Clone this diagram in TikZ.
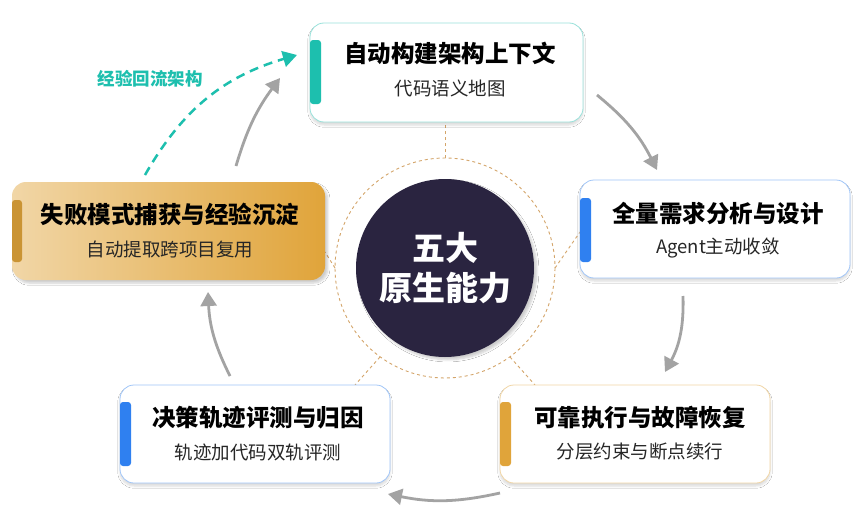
\documentclass[tikz,border=0pt]{standalone}
\usepackage{fontspec}
\setmainfont{Noto Sans CJK SC}
\usetikzlibrary{arrows.meta,shadows.blur}
\definecolor{teal1}{HTML}{1DBFAE}
\definecolor{blue1}{HTML}{2F80F0}
\definecolor{gold1}{HTML}{E0A43A}
\definecolor{dark}{HTML}{2A2440}
\definecolor{arr}{HTML}{A3A3A3}
\definecolor{spoke}{HTML}{D4A56A}
\begin{document}
\begin{tikzpicture}[x=1pt,y=-1pt,
 box/.style={draw=#1!45,line width=0.8pt,fill=white,rounded corners=14pt,blur shadow={shadow blur steps=6,shadow xshift=0pt,shadow yshift=-3pt,shadow opacity=15}},
 ttl/.style={font=\fontsize{23.5}{28}\selectfont\bfseries,text=black},
 sub/.style={font=\fontsize{18.5}{22}\selectfont,text=black!85},
 garr/.style={draw=arr,line width=2.8pt,-{Triangle[length=14pt,width=16pt]}},
 spk/.style={draw=spoke,dashed,line width=0.9pt},
 bar/.style={fill=#1,rounded corners=3pt}]
\useasboundingbox (0,0) rectangle (865,530);
\fill[white] (0,0) rectangle (865,530);
% center
\draw[spk] (445,268) circle (110);
\coordinate (ct) at (445,158);
\coordinate (cr) at (555,268);
\coordinate (cl) at (335,268);
\coordinate (cbl) at (380,357);
\coordinate (cbr) at (510,357);
\draw[spk] (ct) -- (445,122);
\draw[spk] (cr) -- (580,232);
\draw[spk] (cl) -- (325,252);
\draw[spk] (cbl) -- (355,385);
\draw[spk] (cbr) -- (535,385);
\node[circle,fill=dark,minimum size=178pt,inner sep=0pt,text=white,align=center,font=\fontsize{33}{40}\selectfont\bfseries,blur shadow={shadow blur steps=6,shadow opacity=20}] (core) at (445,268) {五大\\原生能力};
% boxes
\draw[box=teal1] (310,23) rectangle (583,122);
\fill[bar=teal1] (310,40) rectangle (321,104);
\node[ttl] (t1) at (450,53) {自动构建架构上下文};
\node[sub] (s1) at (450,88) {代码语义地图};
\draw[box=blue1] (580,180) rectangle (850,278);
\fill[bar=blue1] (580,198) rectangle (591,262);
\node[ttl] (t2) at (718,214) {全量需求分析与设计};
\node[sub] (s2) at (718,248) {Agent主动收敛};
\draw[box=gold1] (500,385) rectangle (770,483);
\fill[bar=gold1] (500,402) rectangle (511,466);
\node[ttl] (t3) at (640,418) {可靠执行与故障恢复};
\node[sub] (s3) at (640,452) {分层约束与断点续行};
\draw[box=blue1] (120,385) rectangle (390,483);
\fill[bar=blue1] (120,402) rectangle (131,466);
\node[ttl] (t4) at (258,418) {决策轨迹评测与归因};
\node[sub] (s4) at (258,452) {轨迹加代码双轨评测};
\shade[left color=gold1!45,right color=gold1,rounded corners=14pt,blur shadow={shadow blur steps=6,shadow yshift=-3pt,shadow opacity=20}] (12,182) rectangle (325,280);
\fill[bar=gold1!90!black] (12,200) rectangle (22,262);
\node[ttl] (t5) at (170,214) {失败模式捕获与经验沉淀};
\node[sub] (s5) at (170,249) {自动提取跨项目复用};
% arrows
\coordinate (a1s) at (597,95); \coordinate (a1e) at (657,170);
\draw[garr] (a1s) to[bend left=12] (a1e);
\coordinate (a2s) at (683,296); \coordinate (a2e) at (665,372);
\draw[garr] (a2s) to[bend left=15] (a2e);
\coordinate (a3s) at (500,493); \coordinate (a3e) at (388,494);
\draw[garr] (a3s) to[bend left=12] (a3e);
\coordinate (a4s) at (230,376); \coordinate (a4e) at (208,292);
\draw[garr] (a4s) to[bend left=12] (a4e);
\coordinate (a5s) at (236,166); \coordinate (a5e) at (280,78);
\draw[garr] (a5s) to[bend left=10] (a5e);
\coordinate (d1s) at (145,175); \coordinate (d1e) at (297,55);
\draw[draw=teal1,line width=2.5pt,dash pattern=on 9pt off 6pt,-{Triangle[length=14pt,width=16pt]}] (d1s) to[bend left=22] (d1e);
\node[text=teal1,font=\fontsize{17.5}{20}\selectfont\bfseries] (lbl) at (150,79) {经验回流架构};
\end{tikzpicture}
\end{document}
